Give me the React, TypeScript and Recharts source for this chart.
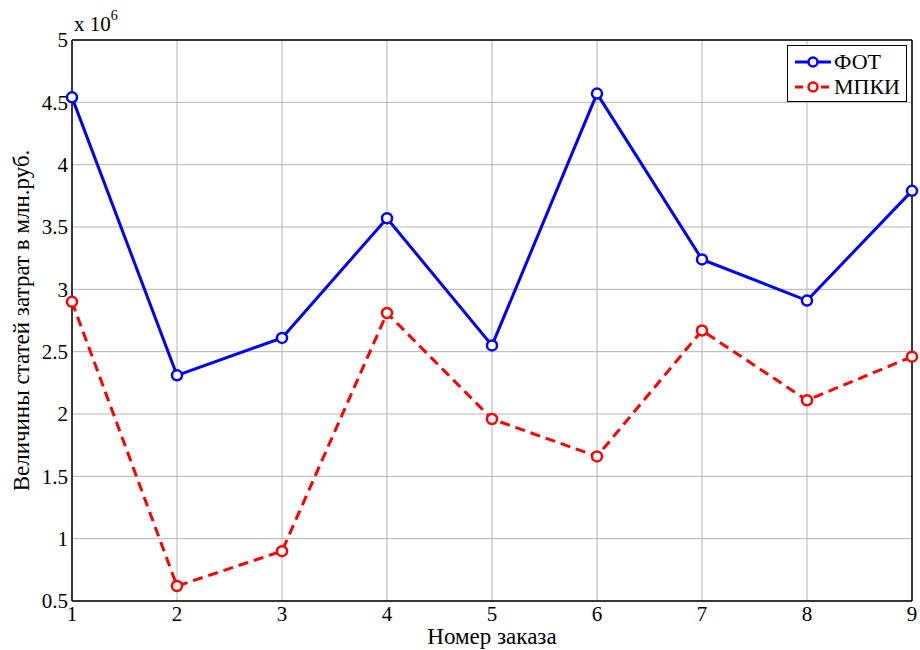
import React from 'react';
import {
  LineChart,
  Line,
  XAxis,
  YAxis,
  CartesianGrid,
  ReferenceLine,
  Label,
} from 'recharts';

// order numbers on the x axis
const orders = [1, 2, 3, 4, 5, 6, 7, 8, 9];
// values in units of 10^6 rub.
const fotValues = [4.54, 2.31, 2.61, 3.57, 2.55, 4.57, 3.24, 2.91, 3.79];
const mpkiValues = [2.9, 0.62, 0.9, 2.81, 1.96, 1.66, 2.67, 2.11, 2.46];
const yTicks = [0.5, 1, 1.5, 2, 2.5, 3, 3.5, 4, 4.5, 5];

const seriesNames = { fot: 'ФОТ', mpki: 'МПКИ' };

const data = orders.map((n, i) => ({
  order: n,
  fot: fotValues[i],
  mpki: mpkiValues[i],
}));

const FONT = '"Liberation Serif", "DejaVu Serif", serif';

const LegendBox = () => (
  <div
    style={{
      position: 'absolute',
      left: 787,
      top: 45,
      border: '1px solid #000',
      background: '#fff',
      width: 120,
      height: 57,
      boxSizing: 'border-box',
      fontFamily: FONT,
      fontSize: 22,
      color: '#000',
      padding: '3px 0 0 6px',
    }}
  >
    {[
      { name: seriesNames.fot, color: '#0000ff', dash: undefined },
      { name: seriesNames.mpki, color: '#ff0000', dash: '8 5' },
    ].map(item => (
      <div key={item.name} style={{ display: 'flex', alignItems: 'center', height: 25 }}>
        <svg width={38} height={14}>
          <line x1={1} y1={7} x2={37} y2={7} stroke={item.color} strokeWidth={3} strokeDasharray={item.dash} />
          <circle cx={19} cy={7} r={4.5} fill="#fff" stroke={item.color} strokeWidth={2.5} />
        </svg>
        <span style={{ marginLeft: 2 }}>{item.name}</span>
      </div>
    ))}
  </div>
);

const YLabel = () => {
  const cy = 40 + (601 - 40) / 2;
  return (
    <text
      x={29}
      y={cy}
      transform={`rotate(-90, 29, ${cy})`}
      textAnchor="middle"
      fontFamily={FONT}
      fontSize={23}
      fill="#000"
    >
      Величины статей затрат в млн.руб.
    </text>
  );
};

const XLabel = ({ viewBox }: any) => (
  <text
    x={viewBox.x + viewBox.width / 2}
    y={644}
    textAnchor="middle"
    fontFamily={FONT}
    fontSize={23}
    fill="#000"
  >
    Номер заказа
  </text>
);

const App: React.FC = () => {
  const tickStyle = { fontFamily: FONT, fontSize: 21, fill: '#000' };
  return (
    <div style={{ position: 'absolute', left: 0, top: 0, width: 920, height: 650, background: '#fff', fontFamily: FONT }}>
      <LineChart
        width={920}
        height={650}
        data={data}
        margin={{ top: 40, right: 8, left: 0, bottom: 0 }}
        style={{ fontFamily: FONT }}
      >
        <CartesianGrid stroke="#b4b4b4" strokeWidth={1} />
        <XAxis
          dataKey="order"
          type="number"
          domain={[1, 9]}
          ticks={orders}
          height={49}
          tickLine={false}
          tickSize={0}
          tickMargin={5}
          axisLine={{ stroke: '#000', strokeWidth: 1.5 }}
          tick={tickStyle}
          style={{ fontFamily: FONT }}
        >
          <Label content={<XLabel />} />
        </XAxis>
        <YAxis
          type="number"
          domain={[0.5, 5]}
          ticks={yTicks}
          width={72}
          tickLine={false}
          tickSize={0}
          tickMargin={4}
          axisLine={{ stroke: '#000', strokeWidth: 1.5 }}
          tick={tickStyle}
          style={{ fontFamily: FONT }}
        >
          <Label content={<YLabel />} />
        </YAxis>
        <ReferenceLine y={5} stroke="#000" strokeWidth={1.5} />
        <ReferenceLine x={9} stroke="#000" strokeWidth={1.5} />
        <Line
          type="linear"
          dataKey="fot"
          name={seriesNames.fot}
          stroke="#0000ff"
          strokeWidth={3}
          dot={{ r: 5, fill: '#fff', stroke: '#0000ff', strokeWidth: 2.5 }}
          isAnimationActive={false}
        />
        <Line
          type="linear"
          dataKey="mpki"
          name={seriesNames.mpki}
          stroke="#ff0000"
          strokeWidth={3}
          strokeDasharray="10 6"
          dot={{ r: 5, fill: '#fff', stroke: '#ff0000', strokeWidth: 2.5, strokeDasharray: '' }}
          isAnimationActive={false}
        />
      </LineChart>
      <LegendBox />
      <div
        style={{
          position: 'absolute',
          left: 74,
          top: 14,
          fontFamily: FONT,
          fontSize: 21,
          color: '#000',
          lineHeight: '20px',
        }}
      >
        x 10<sup style={{ fontSize: 14, verticalAlign: 'top', position: 'relative', top: -8 }}>6</sup>
      </div>
    </div>
  );
};

export default App;
